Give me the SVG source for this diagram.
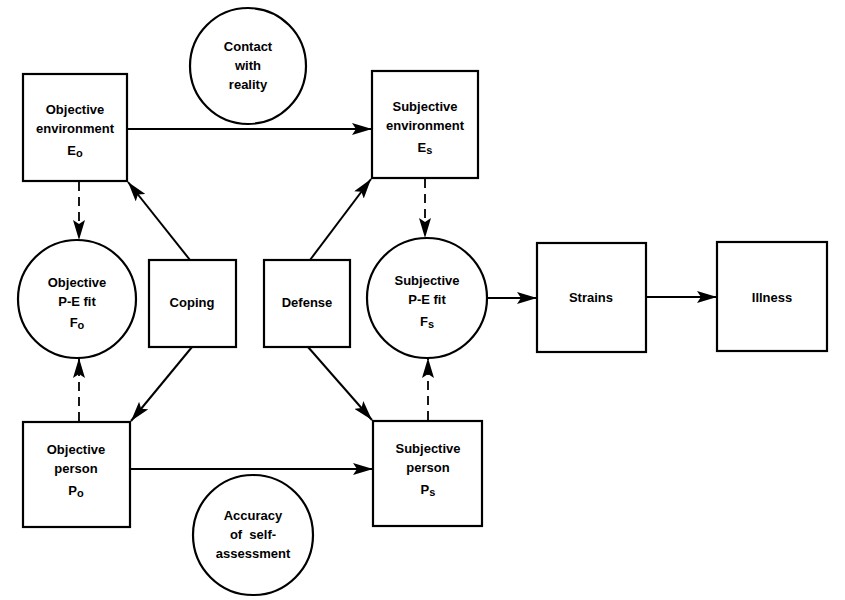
<svg xmlns="http://www.w3.org/2000/svg" width="845" height="600" viewBox="0 0 845 600">
<style>
.n{fill:#fff;stroke:#000;stroke-width:2.2}
.t{font-family:"Liberation Sans",Arial,sans-serif;font-weight:bold;font-size:13px;text-anchor:middle;fill:#000}
.c{fill:none;stroke:#000;stroke-width:2}
.d{fill:none;stroke:#000;stroke-width:1.8;stroke-dasharray:9 6}
.s{font-size:11px}
</style>
<defs>
<marker id="b" viewBox="0 0 20 12" refX="20" refY="6" markerWidth="20" markerHeight="12" markerUnits="userSpaceOnUse" orient="auto">
<path d="M0,0 L20,6 L0,12 L4,6 Z" fill="#000"/>
</marker>
</defs>
<rect width="845" height="600" fill="#fff"/>
<g id="connectors">
<line class="c" x1="127" y1="129" x2="372" y2="129" marker-end="url(#b)"/>
<line class="c" x1="130" y1="469" x2="373" y2="469" marker-end="url(#b)"/>
<line class="c" x1="487" y1="298" x2="537" y2="298" marker-end="url(#b)"/>
<line class="c" x1="646" y1="297" x2="717" y2="297" marker-end="url(#b)"/>
<line class="c" x1="190" y1="260" x2="128" y2="182" marker-end="url(#b)"/>
<line class="c" x1="192" y1="347" x2="131" y2="421" marker-end="url(#b)"/>
<line class="c" x1="310" y1="260" x2="371" y2="179" marker-end="url(#b)"/>
<line class="c" x1="308" y1="347" x2="372" y2="420" marker-end="url(#b)"/>
<line class="d" x1="79" y1="182" x2="79" y2="240" marker-end="url(#b)"/>
<line class="d" x1="79" y1="421" x2="79" y2="358" marker-end="url(#b)"/>
<line class="d" x1="425" y1="179" x2="425" y2="238" marker-end="url(#b)"/>
<line class="d" x1="428" y1="420" x2="428" y2="358" marker-end="url(#b)"/>
</g>
<g id="objective-environment">
<rect class="n" x="23" y="74" width="104" height="107"/>
<text class="t" x="75" y="114">Objective</text>
<text class="t" x="75" y="133">environment</text>
<text class="t" x="75" y="155">E<tspan class="s" dy="2">o</tspan></text>
</g>
<g id="subjective-environment">
<rect class="n" x="372" y="71" width="106" height="107"/>
<text class="t" x="425" y="111">Subjective</text>
<text class="t" x="425" y="130">environment</text>
<text class="t" x="425" y="152">E<tspan class="s" dy="2">s</tspan></text>
</g>
<g id="contact-with-reality">
<circle class="n" cx="248" cy="66" r="58"/>
<text class="t" x="248" y="51">Contact</text>
<text class="t" x="248" y="70">with</text>
<text class="t" x="248" y="89">reality</text>
</g>
<g id="objective-fit">
<circle class="n" cx="77" cy="299" r="59"/>
<text class="t" x="77" y="287">Objective</text>
<text class="t" x="77" y="306">P-E fit</text>
<text class="t" x="77" y="327">F<tspan class="s" dy="2">o</tspan></text>
</g>
<g id="coping">
<rect class="n" x="149" y="260" width="87" height="87"/>
<text class="t" x="192" y="307">Coping</text>
</g>
<g id="defense">
<rect class="n" x="264" y="260" width="86" height="87"/>
<text class="t" x="307" y="307">Defense</text>
</g>
<g id="subjective-fit">
<circle class="n" cx="427" cy="298" r="60"/>
<text class="t" x="427" y="285">Subjective</text>
<text class="t" x="427" y="304">P-E fit</text>
<text class="t" x="427" y="326">F<tspan class="s" dy="2">s</tspan></text>
</g>
<g id="strains">
<rect class="n" x="537" y="243" width="109" height="109"/>
<text class="t" x="591" y="302">Strains</text>
</g>
<g id="illness">
<rect class="n" x="717" y="242" width="110" height="109"/>
<text class="t" x="772" y="302">Illness</text>
</g>
<g id="objective-person">
<rect class="n" x="23" y="422" width="107" height="105"/>
<text class="t" x="76" y="454">Objective</text>
<text class="t" x="76" y="473">person</text>
<text class="t" x="76" y="495">P<tspan class="s" dy="2">o</tspan></text>
</g>
<g id="subjective-person">
<rect class="n" x="373" y="421" width="109" height="105"/>
<text class="t" x="428" y="453">Subjective</text>
<text class="t" x="428" y="472">person</text>
<text class="t" x="428" y="494">P<tspan class="s" dy="2">s</tspan></text>
</g>
<g id="accuracy">
<circle class="n" cx="253" cy="535" r="60"/>
<text class="t" x="253" y="520">Accuracy</text>
<text class="t" x="253" y="539" xml:space="preserve">of  self-</text>
<text class="t" x="253" y="558">assessment</text>
</g>
</svg>
